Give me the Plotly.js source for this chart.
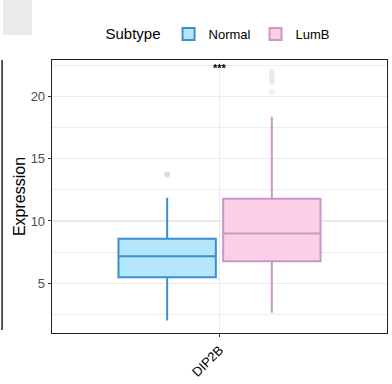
<!DOCTYPE html>
<html>
<head>
<meta charset="utf-8">
<script src="https://cdn.plot.ly/plotly-3.0.1.min.js"></script>
<style>html,body{margin:0;padding:0;background:#fff;}#chart{width:392px;height:384px;}</style>
</head>
<body>
<div id="chart"></div>
<script>
// ---- data ----
const categories = ["DIP2B"];
const subtypes = ["Normal", "LumB"];
const q1Vals = [5.48, 6.76];
const medianVals = [7.17, 8.99];
const q3Vals = [8.58, 11.79];
const lowerFenceVals = [2.0, 2.62];
const upperFenceVals = [11.87, 18.39];
const normalOutliers = [13.74];
const lumbOutliers = [20.35, 21.1, 21.4, 21.7, 22.0];
const yTicks = [5, 10, 15, 20];
const signifLabel = "***";

const fillColors = ["#b4e7fb", "#fdcfe6"];
const lineColors = ["#3a8fd2", "#c996c8"];
const outlierColors = ["rgba(150,190,225,0.45)", "rgba(220,210,220,0.4)"];
const outliers = [normalOutliers, lumbOutliers];

const traces = [];
subtypes.forEach((s, i) => {
  traces.push({
    type: "box",
    name: s,
    x: categories,
    q1: [q1Vals[i]],
    median: [medianVals[i]],
    q3: [q3Vals[i]],
    lowerfence: [lowerFenceVals[i]],
    upperfence: [upperFenceVals[i]],
    fillcolor: fillColors[i],
    line: {color: lineColors[i], width: 2},
    whiskerwidth: 0,
    offsetgroup: s,
    legendgroup: s,
    boxpoints: false,
    hoverinfo: "y"
  });
});
subtypes.forEach((s, i) => {
  traces.push({
    type: "scatter",
    mode: "markers",
    name: s + " outliers",
    x: outliers[i].map(() => categories[0]),
    y: outliers[i],
    offsetgroup: s,
    legendgroup: s,
    showlegend: false,
    marker: {color: outlierColors[i], size: 6}
  });
});

const layout = {
  width: 392, height: 384,
  margin: {l: 52, r: 5, t: 60, b: 51},
  paper_bgcolor: "#fff", plot_bgcolor: "#fff",
  font: {family: "Liberation Sans, Arial, sans-serif", color: "#000"},
  boxmode: "group", boxgap: 0.25, boxgroupgap: 0.07,
  scattermode: "group", scattergap: 0.25,
  showlegend: true,
  legend: {
    orientation: "h", x: 0.5, xanchor: "center", y: 1.095, yanchor: "middle",
    yref: "paper", bgcolor: "rgba(0,0,0,0)",
    title: {text: "Subtype", font: {size: 15, color: "#000"}, side: "left"},
    font: {size: 13, color: "#000"},
    itemwidth: 30, traceorder: "normal"
  },
  xaxis: {
    type: "category", range: [-0.6, 0.6],
    showgrid: true, gridcolor: "#ebebeb", gridwidth: 1.2,
    showline: true, linecolor: "#222", linewidth: 1.3, mirror: true,
    ticks: "outside", ticklen: 3, tickcolor: "#333",
    tickangle: -45, tickfont: {size: 13, color: "#000"},
    zeroline: false, fixedrange: true
  },
  yaxis: {
    range: [0.99, 22.95],
    tickvals: yTicks,
    showgrid: true, gridcolor: "#ebebeb", gridwidth: 1.2,
    minor: {tickvals: [2.5, 7.5, 12.5, 17.5, 22.5], showgrid: true, gridcolor: "#ededed", gridwidth: 1},
    showline: true, linecolor: "#222", linewidth: 1.3, mirror: true,
    ticks: "outside", ticklen: 3, tickcolor: "#333",
    tickfont: {size: 13, color: "#4d4d4d"},
    title: {text: "Expression", font: {size: 16, color: "#000"}, standoff: 1},
    zeroline: false
  },
  annotations: [{
    x: categories[0], y: 22.95, xref: "x", yref: "y",
    text: "<b>" + signifLabel + "</b>", showarrow: false, yanchor: "top",
    font: {size: 11, color: "#000"}
  }],
  shapes: [
    {type: "rect", xref: "paper", yref: "paper", x0: -0.146, x1: -0.06, y0: 1.092, y1: 1.23,
     fillcolor: "#ebebeb", line: {width: 0}, layer: "below"},
    {type: "line", xref: "paper", yref: "paper", x0: -0.149, x1: -0.149, y0: 0.011, y1: 1.0,
     line: {color: "#222", width: 1.5}}
  ]
};

Plotly.newPlot("chart", traces, layout, {displayModeBar: false, staticPlot: true});
</script>
</body>
</html>
